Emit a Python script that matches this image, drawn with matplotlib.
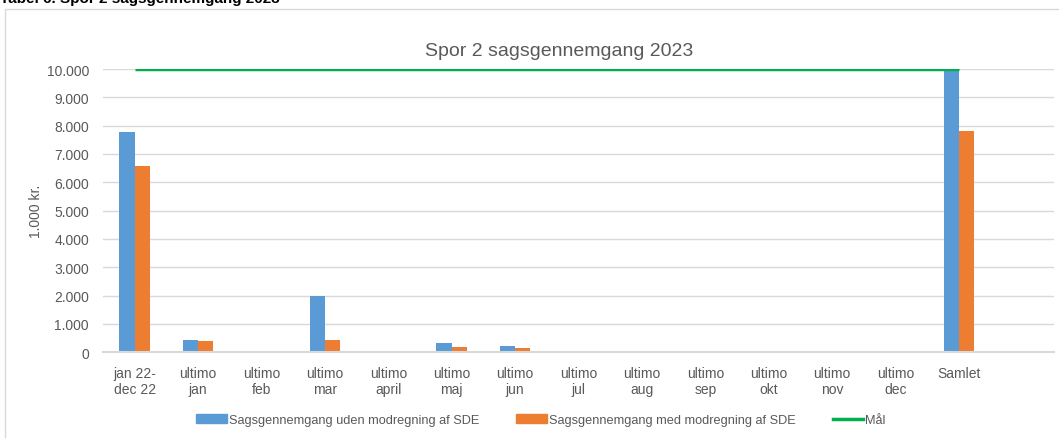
import matplotlib
matplotlib.use("Agg")
import matplotlib.pyplot as plt
from matplotlib.patches import Rectangle
from matplotlib.lines import Line2D
import numpy as np

categories = ["jan 22-\ndec 22", "ultimo\njan", "ultimo\nfeb", "ultimo\nmar", "ultimo\napril",
              "ultimo\nmaj", "ultimo\njun", "ultimo\njul", "ultimo\naug", "ultimo\nsep",
              "ultimo\nokt", "ultimo\nnov", "ultimo\ndec", "Samlet"]
uden = [7770, 445, 0, 1990, 0, 340, 225, 0, 0, 0, 0, 0, 0, 9990]
med = [6570, 410, 50, 435, 0, 190, 165, 0, 0, 0, 0, 0, 0, 7810]
maal = [10000] * len(categories)
yticks = [0, 1000, 2000, 3000, 4000, 5000, 6000, 7000, 8000, 9000, 10000]
ytick_labels = ["0", "1.000", "2.000", "3.000", "4.000", "5.000", "6.000", "7.000", "8.000", "9.000", "10.000"]

plt.rcParams['font.family'] = ['Liberation Sans', 'DejaVu Sans']

W, H = 1059, 439
fig = plt.figure(figsize=(W / 100, H / 100), dpi=100)

# outer chart border
fig.add_artist(Rectangle((5 / W, -0.01), 1.02, 1 - 10 / H + 0.01, transform=fig.transFigure,
                         fill=False, edgecolor="#D9D9D9", linewidth=1.0))
# cut-off table caption
fig.text(0 / W, 1 - 3 / H, "Tabel 6. Spor 2 sagsgennemgang 2023", fontsize=11, fontweight="bold",
         color="#000000", ha="left", va="baseline")

left, right = 103 / W, 1054 / W
bottom, top = 1 - 353.3 / H, 1 - 70 / H
ax = fig.add_axes([left, bottom, right - left, top - bottom])

x = np.arange(len(categories))
bw = 0.242
blue, orange, green = "#5B9BD5", "#ED7D31", "#00B050"
med_colors = [orange] * len(categories)
med_colors[2] = "#F8CBAD"
ax.bar(x - bw / 2, uden, width=bw, color=blue, zorder=3)
ax.bar(x + bw / 2, med, width=bw, color=med_colors, zorder=3)
ax.plot(x, maal, color=green, linewidth=2.5, zorder=4, solid_capstyle="butt")

ax.set_xlim(-0.5, 14.5)
ax.set_ylim(0, 10000)
ax.set_yticks(yticks)
ax.set_yticklabels(ytick_labels)
ax.set_xticks(x)
ax.set_xticklabels(categories, linespacing=1.15)
ax.tick_params(axis="both", length=0, labelsize=10, colors="#595959")
ax.tick_params(axis="y", pad=10)
ax.tick_params(axis="x", pad=10)
ax.yaxis.grid(True, color="#D9D9D9", linewidth=1.0, zorder=0)
ax.set_axisbelow(True)
for s in ["left", "right", "top"]:
    ax.spines[s].set_visible(False)
ax.spines["bottom"].set_color("#D9D9D9")
ax.spines["bottom"].set_linewidth(1.5)
ax.spines["bottom"].set_zorder(5)
ax.set_ylabel("1.000 kr.", fontsize=10, color="#595959", labelpad=3)

fig.text(559 / W, 1 - 51 / H, "Spor 2 sagsgennemgang 2023", fontsize=14, color="#595959",
         ha="center", va="center")

handles = [Rectangle((0, 0), 1, 1, color=blue), Rectangle((0, 0), 1, 1, color=orange),
           Line2D([0], [0], color=green, linewidth=2.5)]
labels = ["Sagsgennemgang uden modregning af SDE", "Sagsgennemgang med modregning af SDE", "Mål"]
fig.legend(handles, labels, loc="center", bbox_to_anchor=(541 / W, 1 - 421 / H), ncol=3,
           frameon=False, fontsize=9.2, labelcolor="#595959", handlelength=2.4, handleheight=0.7,
           handletextpad=0.15, columnspacing=2.9)

fig.savefig("out.png", dpi=100)
